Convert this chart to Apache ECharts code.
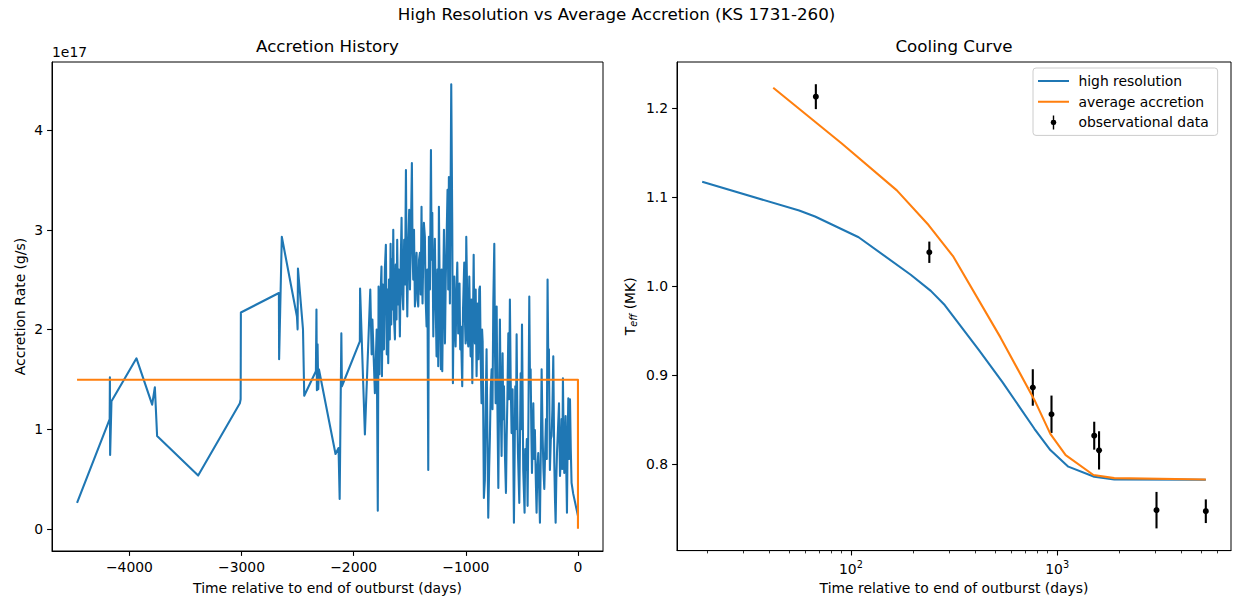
<!DOCTYPE html>
<html><head><meta charset="utf-8">
<script src="https://cdn.jsdelivr.net/npm/echarts@6/dist/echarts.min.js"></script>
<style>html,body{margin:0;padding:0;background:#fff}#c{width:1233px;height:600px}</style>
</head><body><div id="c"></div><script>
// ---------- Accretion history (rate in units of 1e17 g/s) ----------
const accDays = [
  -4467,-4176,-4174,-4172,-4160,-3937,-3797,-3773,-3753,-3387,-3015,-3008,-3006,-2667,-2665,-2641,-2506,-2500,-2497,-2452,-2441,-2337,-2332,-2328,-2322,-2316,-2310,-2162,-2135,-2125,-2110,-2105,-1945,-1943,-1900,
  -1852,-1840,-1833,-1811,-1795,-1785,-1778,-1770,-1762,-1752,-1748,-1740,-1730,-1722,-1713,-1705,-1698,-1692,-1685,-1678,-1671,-1665,-1660,-1653,-1647,-1640,-1632,-1625,-1618,-1612,-1605,-1597,-1588,-1580,-1573,-1565,-1558,-1550,-1542,-1534,-1528,-1522,-1514,-1505,-1498,-1490,-1481,-1475,-1469,-1462,-1454,-1447,-1439,-1432,-1424,-1417,-1409,-1402,-1395,-1390,-1386,-1380,-1374,
  -1365,-1358,-1350,-1343,-1335,-1329,-1320,-1311,-1305,-1299,-1290,-1283,-1276,-1268,-1261,-1253,-1246,-1240,-1232,-1222,-1216,-1210,-1202,-1195,-1186,-1179,-1172,-1163,-1157,-1151,-1142,-1130,-1121,-1115,-1109,-1103,-1097,-1091,-1083,-1076,-1068,-1062,-1056,-1050,-1044,-1032,-1025,-1014,-1008,-1002,-996,-990,-984,-978,-969,-962,-957,-950,-942,-936,-930,-925,-919,-912,-904,-895,-887,-880,
  -874,-867,-860,-855,-850,-845,-839,-830,-822,-815,-808,-800,-792,-785,-778,-770,-762,-755,-746,-740,-734,-725,-718,-710,-703,-696,-688,-681,-672,-666,-660,-651,-642,-636,-630,-621,-614,-607,-600,-592,-583,-577,-571,-565,-559,-553,-547,-541,-535,-523,-517,-511,-505,-499,-493,-488,-476,-470,-464,-456,-449,-441,-434,-428,-422,-416,-410,-404,-398,-391,
  -384,-376,-369,-362,-354,-346,-339,-331,-324,-315,-308,-300,-292,-285,-278,-271,-265,-259,-250,-242,-235,-228,-220,-211,-205,-199,-193,-187,-178,-169,-160,-153,-146,-140,-134,-128,-122,-116,-110,-104,-98,-92,-86,-78,-71,-64,-57,-42,0
];
const accRate = [
  0.26,1.10,1.52,0.74,1.28,1.71,1.245,1.42,0.93,0.534,1.26,1.30,2.17,2.365,1.70,2.93,2.13,2.00,2.61,2.00,1.335,1.58,2.20,1.39,1.85,1.40,1.60,0.75,0.81,0.30,1.96,1.43,1.88,2.41,0.945,
  2.40,1.75,2.10,1.36,2.00,0.18,2.43,1.55,2.30,2.63,1.53,2.45,1.80,2.60,2.85,1.75,2.40,1.66,2.50,1.90,2.86,2.05,2.70,2.20,3.00,2.10,1.90,2.65,2.10,2.90,2.25,2.60,1.93,2.70,3.12,2.35,2.20,2.90,2.45,3.60,2.60,2.13,2.80,3.20,2.40,2.95,3.67,2.80,2.50,3.00,2.23,2.60,2.77,2.30,2.23,2.70,2.77,2.35,3.23,2.50,2.26,2.70,3.07,
  2.93,2.30,2.03,2.60,0.59,2.93,2.40,3.80,2.70,3.17,1.93,2.50,2.91,2.20,1.73,2.60,1.63,3.23,2.30,1.60,2.60,1.58,2.40,3.00,1.86,2.50,2.88,3.40,2.40,3.53,2.26,4.46,3.07,1.46,2.20,2.53,2.00,1.83,2.40,2.67,1.96,2.30,2.46,1.80,2.03,1.43,2.20,2.67,2.10,1.86,2.93,2.50,1.90,1.83,2.53,2.00,1.73,2.30,1.46,2.10,2.75,2.10,1.86,2.40,1.53,2.26,1.70,2.40,
  2.43,1.70,1.26,2.00,1.88,1.20,0.31,0.49,1.30,1.80,1.00,0.11,0.60,0.93,1.40,1.60,1.20,2.26,2.86,1.80,1.26,2.23,1.20,0.41,1.30,2.10,1.20,0.73,1.76,1.10,1.43,0.73,0.36,0.90,1.26,1.96,1.30,2.30,1.50,0.96,1.40,0.80,0.06,0.70,1.43,1.00,1.95,1.20,0.76,0.26,0.90,1.56,1.00,2.05,1.30,0.59,0.16,0.80,0.59,0.90,0.23,1.20,2.33,1.50,1.60,1.00,0.56,0.90,1.26,0.70,
  0.99,0.50,0.16,0.60,0.76,0.40,0.06,0.80,1.60,0.93,0.60,0.40,0.80,1.10,0.70,2.50,1.70,1.80,0.59,0.90,0.93,1.20,1.73,0.66,0.30,0.06,0.50,0.76,1.00,1.26,0.53,0.70,1.10,0.60,1.51,0.90,0.56,0.80,1.13,0.60,0.16,0.90,1.31,0.70,1.30,0.80,0.46,0.35,0.13
];
const avgDays = [-4467, 0, 0];
const avgRate = [1.495, 1.495, 0];
const accTicks = [-4000, -3000, -2000, -1000, 0];
const rateTicks = [0, 1, 2, 3, 4];

// ---------- Cooling curve ----------
const hiresT    = [19.0, 56.1, 67, 109, 195, 244, 285, 416, 543, 776, 927, 1133, 1513, 1892, 5260];
const hiresTeff = [1.1176, 1.0854, 1.0786, 1.0553, 1.0131, 0.995, 0.979, 0.929, 0.8925, 0.840, 0.816, 0.7974, 0.786, 0.7831, 0.7827];
const avgT      = [42.0, 90.3, 167, 238, 314, 531, 776, 927, 1100, 1500, 1892, 5260];
const avgTeff   = [1.2233, 1.1607, 1.108, 1.0690, 1.0334, 0.9427, 0.8724, 0.8342, 0.8104, 0.7880, 0.7845, 0.7830];
const obsT      = [67.6, 240, 762, 939, 1513, 1597, 3033, 5260];
const obsTeff   = [1.2133, 1.0384, 0.8864, 0.8563, 0.8322, 0.8157, 0.7485, 0.7473];
const obsErr    = [0.014, 0.012, 0.0205, 0.021, 0.0157, 0.0215, 0.0205, 0.0133];
const teffTicks = [0.8, 0.9, 1.0, 1.1, 1.2];
const tMajor = [100, 1000];
const tMinor = [20,30,40,50,60,70,80,90,200,300,400,500,600,700,800,900,2000,3000,4000,5000,6000];

// ---------- helpers ----------
const FS = 13.9, TFS = 16.7, FONT = 'DejaVu Sans';
function pad(lo, hi) { const m = (hi - lo) * 0.05; return [lo - m, hi + m]; }
const allRate = accRate.concat(avgRate);
const xl0 = pad(Math.min(...accDays, ...avgDays), Math.max(...accDays, ...avgDays));
const yl0 = pad(Math.min(...allRate), Math.max(...allRate));
const allT = hiresT.concat(avgT, obsT);
const lx = pad(Math.log10(Math.min(...allT)), Math.log10(Math.max(...allT)));
const xl1 = [Math.pow(10, lx[0]), Math.pow(10, lx[1])];
const teLo = Math.min(...hiresTeff, ...avgTeff, ...obsTeff.map((v, i) => v - obsErr[i]));
const teHi = Math.max(...hiresTeff, ...avgTeff, ...obsTeff.map((v, i) => v + obsErr[i]));
const yl1 = pad(teLo, teHi);
const minus = v => (v < 0 ? '\u2212' + Math.abs(v) : String(v));
const axLine = { show: true, onZero: false, lineStyle: { color: '#000', width: 1 } };
const tick = vals => ({ show: true, length: 4.9, lineStyle: { color: '#000', width: 1.1 }, customValues: vals });
const titleStyle = { fontSize: TFS, fontWeight: 'normal', color: '#000', fontFamily: FONT };
// legend icons: corner specks keep the 31x14 box so nothing is stretched
const box = 'M0,0L0.01,0L0.01,0.01Z M31,14L30.99,14L30.99,13.99Z ';
const lineIcon = 'path://' + box + 'M0,5.96L31,5.96L31,8.04L0,8.04Z';
const errIcon = 'path://' + box + 'M14.8,0L16.2,0L16.2,14L14.8,14Z M15.5,4.1L17.55,4.95L18.4,7L17.55,9.05L15.5,9.9L13.45,9.05L12.6,7L13.45,4.95Z';

const chart = echarts.init(document.getElementById('c'), null, { renderer: 'svg' });
chart.setOption({
  animation: false,
  backgroundColor: '#fff',
  textStyle: { fontFamily: FONT, color: '#000' },
  title: [
    { text: 'High Resolution vs Average Accretion (KS 1731-260)', left: 616.5, top: 5, textAlign: 'center', padding: 0, textStyle: titleStyle },
    { text: 'Accretion History', left: 327.5, top: 37, textAlign: 'center', padding: 0, textStyle: titleStyle },
    { text: 'Cooling Curve', left: 954, top: 37, textAlign: 'center', padding: 0, textStyle: titleStyle }
  ],
  graphic: [
    { type: 'text', left: 52, top: 45, style: { text: '1e17', fontSize: FS, fontFamily: FONT, fill: '#000' } }
  ],
  grid: [
    { left: 52, top: 62, width: 551, height: 491, show: true, borderColor: '#000', borderWidth: 1 },
    { left: 677, top: 62, width: 554, height: 491, show: true, borderColor: '#000', borderWidth: 1 }
  ],
  legend: {
    left: 1033, top: 68, orient: 'vertical', itemWidth: 31, itemHeight: 14, itemGap: 6.7,
    padding: [6, 9, 6, 5], backgroundColor: 'rgba(255,255,255,0.8)', borderColor: '#cccccc', borderWidth: 1, borderRadius: 3,
    textStyle: { fontSize: FS, color: '#000', fontFamily: FONT },
    formatter: n => ' ' + n,
    data: [
      { name: 'high resolution', icon: lineIcon, itemStyle: { color: '#1f77b4', borderWidth: 0 } },
      { name: 'average accretion', icon: lineIcon, itemStyle: { color: '#ff7f0e', borderWidth: 0 } },
      { name: 'observational data', icon: errIcon, itemStyle: { color: '#000', borderWidth: 0 } }
    ]
  },
  xAxis: [
    {
      type: 'value', gridIndex: 0, min: xl0[0], max: xl0[1],
      axisLine: axLine, axisTick: tick(accTicks), splitLine: { show: false },
      axisLabel: { customValues: accTicks, formatter: minus, margin: 9, fontSize: FS, color: '#000', fontFamily: FONT },
      name: 'Time relative to end of outburst (days)', nameLocation: 'middle', nameGap: 30,
      nameTextStyle: { fontSize: FS, color: '#000', fontFamily: FONT }
    },
    {
      type: 'log', gridIndex: 1, position: 'bottom', min: xl1[0], max: xl1[1],
      axisLine: axLine, axisTick: tick(tMajor), splitLine: { show: false }, minorTick: { show: false },
      axisLabel: {
        customValues: tMajor, margin: 9, fontSize: FS, color: '#000', fontFamily: FONT,
        formatter: v => '{a|10}{b|' + Math.round(Math.log10(v)) + '}',
        rich: { a: { fontSize: FS, fontFamily: FONT, color: '#000' }, b: { fontSize: 9.7, fontFamily: FONT, color: '#000', padding: [0, 0, 9, 0] } }
      },
      name: 'Time relative to end of outburst (days)', nameLocation: 'middle', nameGap: 30,
      nameTextStyle: { fontSize: FS, color: '#000', fontFamily: FONT }
    },
    {
      type: 'log', gridIndex: 1, position: 'bottom', offset: 0, min: xl1[0], max: xl1[1],
      axisLine: { show: false, onZero: false }, splitLine: { show: false }, axisLabel: { show: false },
      axisTick: { show: true, length: 2.8, lineStyle: { color: '#000', width: 0.8 }, customValues: tMinor }
    }
  ],
  yAxis: [
    {
      type: 'value', gridIndex: 0, min: yl0[0], max: yl0[1],
      axisLine: axLine, axisTick: tick(rateTicks), splitLine: { show: false },
      axisLabel: { customValues: rateTicks, formatter: v => String(v), margin: 9, fontSize: FS, color: '#000', fontFamily: FONT },
      name: 'Accretion Rate (g/s)', nameLocation: 'middle', nameGap: 25,
      nameTextStyle: { fontSize: FS, color: '#000', fontFamily: FONT }
    },
    {
      type: 'value', gridIndex: 1, min: yl1[0], max: yl1[1],
      axisLine: axLine, axisTick: tick(teffTicks), splitLine: { show: false },
      axisLabel: { customValues: teffTicks, formatter: v => v.toFixed(1), margin: 9, fontSize: FS, color: '#000', fontFamily: FONT },
      name: '{a|T}{b|eff}{a| (MK)}', nameLocation: 'middle', nameGap: 39,
      nameTextStyle: {
        fontSize: FS, color: '#000', fontFamily: FONT,
        rich: { a: { fontSize: FS, fontFamily: FONT, color: '#000' }, b: { fontSize: 9.7, fontStyle: 'italic', fontFamily: FONT, color: '#000', padding: [6, 0, 0, 0] } }
      }
    }
  ],
  series: [
    {
      name: 'high resolution acc', type: 'line', xAxisIndex: 0, yAxisIndex: 0, symbol: 'none', showSymbol: false,
      data: accDays.map((d, i) => [d, accRate[i]]),
      lineStyle: { color: '#1f77b4', width: 2.08, join: 'round' }, itemStyle: { color: '#1f77b4' }, silent: true
    },
    {
      name: 'average acc', type: 'line', xAxisIndex: 0, yAxisIndex: 0, symbol: 'none', showSymbol: false,
      data: avgDays.map((d, i) => [d, avgRate[i]]),
      lineStyle: { color: '#ff7f0e', width: 2.08, join: 'round' }, itemStyle: { color: '#ff7f0e' }, silent: true
    },
    {
      name: 'high resolution', type: 'line', xAxisIndex: 1, yAxisIndex: 1, symbol: 'none', showSymbol: false,
      data: hiresT.map((t, i) => [t, hiresTeff[i]]),
      lineStyle: { color: '#1f77b4', width: 2.08, join: 'round' }, itemStyle: { color: '#1f77b4' }, silent: true
    },
    {
      name: 'average accretion', type: 'line', xAxisIndex: 1, yAxisIndex: 1, symbol: 'none', showSymbol: false,
      data: avgT.map((t, i) => [t, avgTeff[i]]),
      lineStyle: { color: '#ff7f0e', width: 2.08, join: 'round' }, itemStyle: { color: '#ff7f0e' }, silent: true
    },
    {
      name: 'observational data', type: 'custom', xAxisIndex: 1, yAxisIndex: 1,
      itemStyle: { color: '#000' }, silent: true,
      data: obsT.map((t, i) => [t, obsTeff[i], obsErr[i]]),
      encode: { x: 0, y: 1 },
      renderItem: (params, api) => {
        const x = api.value(0), y = api.value(1), e = api.value(2);
        const p = api.coord([x, y]), lo = api.coord([x, y - e]), hi = api.coord([x, y + e]);
        return {
          type: 'group', children: [
            { type: 'line', shape: { x1: p[0], y1: lo[1], x2: p[0], y2: hi[1] }, style: { stroke: '#000', lineWidth: 2.1 } },
            { type: 'circle', shape: { cx: p[0], cy: p[1], r: 3 }, style: { fill: '#000' } }
          ]
        };
      }
    }
  ]
});
</script></body></html>
